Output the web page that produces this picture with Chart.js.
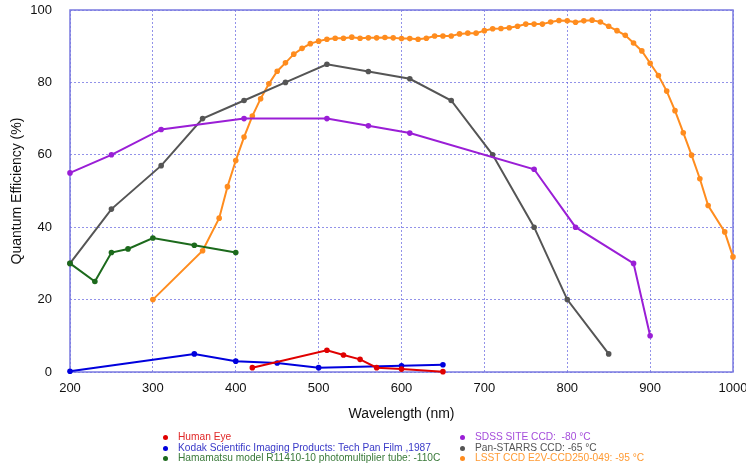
<!DOCTYPE html>
<html>
<head>
<meta charset="utf-8">
<script src="https://cdn.jsdelivr.net/npm/chart.js@4"></script>
<style>
  html, body { margin: 0; padding: 0; background: #fff; }
  #wrap { position: relative; width: 746px; height: 465px; overflow: hidden; }
  #c { position: absolute; left: 0; top: 0; }
  .leg { position: absolute; font-family: "Liberation Sans", Arial, sans-serif; font-size: 10.2px; line-height: 10.5px; white-space: pre; }
  .leg div { position: relative; padding-left: 15px; height: 10.5px; }
  .leg span.b { position: absolute; left: 0; top: 3px; width: 5px; height: 5px; border-radius: 50%; }
</style>
</head>
<body>
<div id="wrap">
  <canvas id="c" width="746" height="465"></canvas>
  <div class="leg" id="legL" style="left:163px; top:432px;"></div>
  <div class="leg" id="legR" style="left:460px; top:432px;"></div>
</div>
<script>
// ---- data ----
const eyeX = [420, 510, 530, 550, 570, 600, 650];
const eyeY = [1.2, 6, 4.7, 3.5, 1.2, 0.8, 0.1];

const kodakX = [200, 350, 400, 450, 500, 600, 650];
const kodakY = [0.2, 5, 3, 2.5, 1.2, 1.7, 2.0];

const hamaX = [200, 230, 250, 270, 300, 350, 400];
const hamaY = [30, 25, 33, 34, 37, 35, 33];

const sdssX = [200, 250, 310, 410, 510, 560, 610, 760, 810, 880, 900];
const sdssY = [55, 60, 67, 70, 70, 68, 66, 56, 40, 30, 10];

const panX = [200, 250, 310, 360, 410, 460, 510, 560, 610, 660, 710, 760, 800, 850];
const panY = [30, 45, 57, 70, 75, 80, 85, 83, 81, 75, 60, 40, 20, 5];

const lsstX = [300, 360, 380, 390, 400, 410, 420, 430, 440, 450, 460, 470, 480, 490, 500,
               510, 520, 530, 540, 550, 560, 570, 580, 590, 600, 610, 620, 630, 640, 650,
               660, 670, 680, 690, 700, 710, 720, 730, 740, 750, 760, 770, 780, 790, 800,
               810, 820, 830, 840, 850, 860, 870, 880, 890, 900, 910, 920, 930, 940, 950,
               960, 970, 990, 1000];
const lsstY = [20, 33.5, 42.5, 51.2, 58.4, 64.9, 70.7, 75.5, 79.6, 83.1, 85.4, 87.8, 89.4, 90.7, 91.4,
               91.9, 92.2, 92.2, 92.5, 92.2, 92.3, 92.3, 92.4, 92.3, 92.1, 92.1, 91.9, 92.2, 92.8, 92.8,
               92.8, 93.4, 93.6, 93.6, 94.3, 94.8, 94.9, 95.1, 95.5, 96.1, 96.1, 96.1, 96.7, 97.1, 97.0,
               96.6, 97.0, 97.2, 96.7, 95.5, 94.3, 93.0, 90.9, 88.7, 85.3, 81.9, 77.6, 72.2, 66.1, 59.9,
               53.4, 46.0, 38.7, 31.8];

const xTicks = [200, 300, 400, 500, 600, 700, 800, 900, 1000];
const yTicks = [0, 20, 40, 60, 80, 100];

const series = [
  { name: 'Human Eye', x: eyeX, y: eyeY, color: '#e00000', text: '#e02828', col: 'L' },
  { name: 'Kodak Scientific Imaging Products: Tech Pan Film ,1987', x: kodakX, y: kodakY, color: '#0000dd', text: '#3a3ac8', col: 'L' },
  { name: 'Hamamatsu model R11410-10 photomultiplier tube: -110C', x: hamaX, y: hamaY, color: '#1c6a1c', text: '#3a7a3a', col: 'L' },
  { name: 'SDSS SITE CCD:  -80 °C', x: sdssX, y: sdssY, color: '#9a1ed6', text: '#a54ddb', col: 'R' },
  { name: 'Pan-STARRS CCD: -65 °C', x: panX, y: panY, color: '#555555', text: '#555555', col: 'R' },
  { name: 'LSST CCD E2V-CCD250-049: -95 °C', x: lsstX, y: lsstY, color: '#ff8c1e', text: '#ff9a33', col: 'R' }
];

const datasets = series.map(s => ({
  label: s.name,
  data: s.x.map((v, i) => ({ x: v, y: s.y[i] })),
  borderColor: s.color,
  backgroundColor: s.color,
  borderWidth: 2,
  pointRadius: 2.8,
  pointBorderWidth: 0,
  pointBackgroundColor: s.color,
  tension: 0,
  clip: false
}));

// legend (HTML, two columns)
series.forEach(s => {
  const d = document.createElement('div');
  d.style.color = s.text;
  d.innerHTML = '<span class="b" style="background:' + s.color + '"></span>';
  d.appendChild(document.createTextNode(s.name));
  document.getElementById('leg' + s.col).appendChild(d);
});

const frame = {
  id: 'frame',
  beforeDatasetsDraw(chart) {
    const a = chart.chartArea, ctx = chart.ctx;
    ctx.save();
    ctx.strokeStyle = '#7a7ae0';
    ctx.lineWidth = 1.5;
    ctx.strokeRect(a.left, a.top, a.right - a.left, a.bottom - a.top);
    ctx.restore();
  }
};

const font = { family: '"Liberation Sans", Arial, sans-serif' };

new Chart(document.getElementById('c'), {
  type: 'line',
  data: { datasets },
  plugins: [frame],
  options: {
    responsive: false,
    animation: false,
    events: [],
    layout: { padding: { left: 0, right: 13, top: 10, bottom: 41 } },
    plugins: { legend: { display: false }, tooltip: { enabled: false } },
    scales: {
      x: {
        type: 'linear',
        min: 200, max: 1000,
        afterBuildTicks: sc => { sc.ticks = xTicks.map(v => ({ value: v })); },
        afterFit: sc => { sc.height = 52; sc.paddingRight = 0; sc.paddingLeft = 0; },
        grid: { color: 'rgba(110,110,225,0.75)', lineWidth: 1, drawTicks: false },
        border: { display: false, dash: [2, 2] },
        ticks: { color: '#111', padding: 9, font: { ...font, size: 13 }, maxRotation: 0, callback: v => String(v) },
        title: { display: true, text: 'Wavelength (nm)', color: '#111', font: { ...font, size: 14 }, padding: { top: 0, bottom: 1 } }
      },
      y: {
        min: 0, max: 100,
        afterBuildTicks: sc => { sc.ticks = yTicks.map(v => ({ value: v })); },
        afterFit: sc => { sc.width = 70; sc.paddingTop = 0; sc.paddingBottom = 0; },
        grid: { color: 'rgba(110,110,225,0.75)', lineWidth: 1, drawTicks: false },
        border: { display: false, dash: [2, 2] },
        ticks: { color: '#111', padding: 18, font: { ...font, size: 13 }, callback: v => String(v) },
        title: { display: true, text: 'Quantum Efficiency (%)', color: '#111', font: { ...font, size: 14 }, padding: { top: 9, bottom: 0 } }
      }
    }
  }
});
</script>
</body>
</html>
